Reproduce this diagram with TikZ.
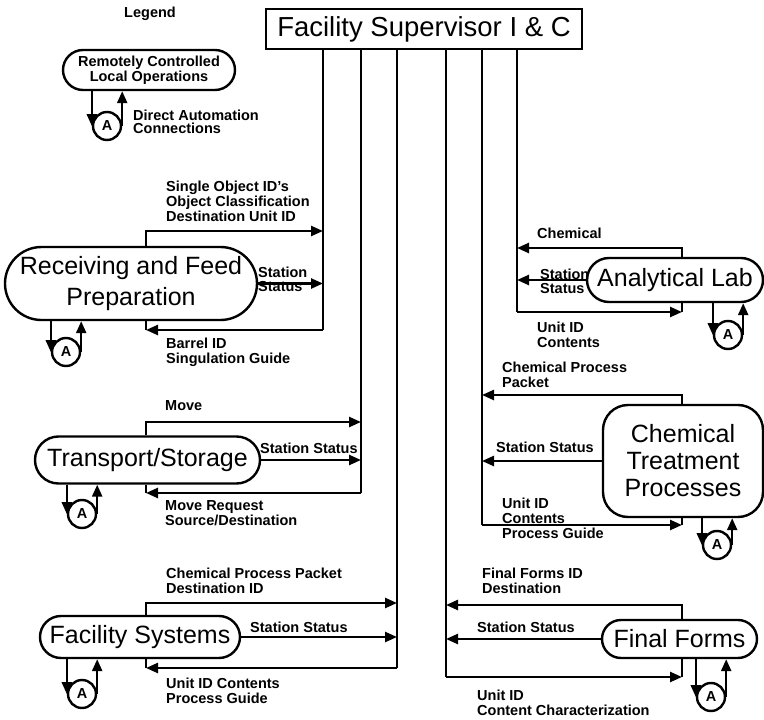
\documentclass[tikz,border=0pt]{standalone}
\usepackage{fontspec}
\setmainfont{Liberation Sans}
\usetikzlibrary{arrows.meta,shapes.misc}
\newcommand\labfont{\fontsize{14.5}{15}\selectfont\bfseries}
\newcommand\bigfont{\fontsize{25}{31}\selectfont}
\begin{document}
\begin{tikzpicture}[x=1pt,y=-1pt,
  box/.style={draw, line width=2.4pt, rounded rectangle, inner sep=0pt, font=\bigfont, align=center},
  lbl/.style={font=\labfont, align=left, inner sep=0pt, anchor=north west},
  ln/.style={line width=2.4pt},
  arr/.style={line width=2.4pt, -{Triangle[length=12pt,width=10pt]}},
  acirc/.style={circle, draw, line width=2.4pt, minimum size=28pt, inner sep=0pt, font=\labfont}]
\useasboundingbox (0,0) rectangle (764,720);

% supervisor
\node[draw, line width=2.4pt, minimum width=316pt, minimum height=40pt, inner sep=0pt,
      font=\fontsize{27.5}{30}\selectfont] (title) at (424,29) {Facility Supervisor I \& C};
\coordinate (b1) at (323,0);
\coordinate (b2) at (361,0);
\coordinate (b3) at (397,0);
\coordinate (b4) at (446,0);
\coordinate (b5) at (482,0);
\coordinate (b6) at (517,0);

% legend
\node[font=\labfont, inner sep=0pt] (legend) at (150,14) {Legend};
\node[box, font=\fontsize{14.5}{12.5}\selectfont\bfseries, minimum width=172pt, minimum height=40pt] (leg) at (149,70) {Remotely Controlled\\Local Operations};
\node[acirc] (legA) at (107,126) {A};
\draw[arr] (leg.south -| legA.west) -- (legA.west);
\draw[arr] (legA.east) -- (leg.south -| legA.east);
\node[lbl, font=\fontsize{14.5}{13}\selectfont\bfseries] (legL) at (133,110) {Direct Automation\\Connections};

% nodes
\node[box, minimum width=252pt, minimum height=73pt] (recv) at (131,283.5) {Receiving and Feed\\Preparation};
\node[box, minimum width=225pt, minimum height=47pt] (trans) at (147.5,460) {Transport/Storage};
\node[box, minimum width=200pt, minimum height=42pt] (fac) at (140,637) {Facility Systems};
\node[box, minimum width=176pt, minimum height=44pt] (anal) at (675,280) {Analytical Lab};
\node[draw, line width=2.4pt, rounded corners=25pt, inner sep=0pt, align=center,
      font=\fontsize{25}{27}\selectfont, minimum width=160pt, minimum height=112pt] (chem) at (683,461) {Chemical\\Treatment\\Processes};
\node[box, minimum width=155pt, minimum height=38pt] (final) at (679.5,639) {Final Forms};

% automation loops
\node[acirc] (recvA) at (66,352) {A};
\draw[arr] (recv.south -| recvA.west) -- (recvA.west);
\draw[arr] (recvA.east) -- (recv.south -| recvA.east);
\node[acirc] (transA) at (82,514) {A};
\draw[arr] (trans.south -| transA.west) -- (transA.west);
\draw[arr] (transA.east) -- (trans.south -| transA.east);
\node[acirc] (facA) at (82,694) {A};
\draw[arr] (fac.south -| facA.west) -- (facA.west);
\draw[arr] (facA.east) -- (fac.south -| facA.east);
\node[acirc] (analA) at (728,335) {A};
\draw[arr] (anal.south -| analA.west) -- (analA.west);
\draw[arr] (analA.east) -- (anal.south -| analA.east);
\node[acirc] (chemA) at (717,545) {A};
\draw[arr] (chem.south -| chemA.west) -- (chemA.west);
\draw[arr] (chemA.east) -- (chem.south -| chemA.east);
\node[acirc] (finalA) at (711,697) {A};
\draw[arr] (final.south -| finalA.west) -- (finalA.west);
\draw[arr] (finalA.east) -- (final.south -| finalA.east);

% receiving connections (bus 1)
\coordinate (rT) at (146,231);
\coordinate (rB) at (146,330);
\draw[ln] (title.south -| b1) -- (b1 |- rB);
\draw[arr] (recv.north -| rT) -- (rT) -- (rT -| b1);
\draw[arr] (recv.east) -- (recv.east -| b1);
\draw[ln] (recv.south -| rB) -- (rB);
\draw[arr] (rB -| b1) -- (rB);
\node[lbl] (rTl) at (166,181) {Single Object ID's\\Object Classification\\Destination Unit ID};
\node[lbl, font=\fontsize{14.5}{13.5}\selectfont\bfseries] (rSl) at (258,267) {Station\\Status};
\node[lbl] (rBl) at (166,338) {Barrel ID\\Singulation Guide};

% transport connections (bus 2)
\coordinate (tT) at (146,422);
\coordinate (tB) at (146,493);
\draw[ln] (title.south -| b2) -- (b2 |- tB);
\draw[arr] (trans.north -| tT) -- (tT) -- (tT -| b2);
\draw[arr] (trans.east) -- (trans.east -| b2);
\draw[ln] (trans.south -| tB) -- (tB);
\draw[arr] (tB -| b2) -- (tB);
\node[lbl] (tTl) at (165,400) {Move};
\node[lbl] (tSl) at (260,443) {Station Status};
\node[lbl] (tBl) at (165,500) {Move Request\\Source/Destination};

% facility systems connections (bus 3)
\coordinate (fT) at (146,603);
\coordinate (fB) at (146,668);
\draw[ln] (title.south -| b3) -- (b3 |- fB);
\draw[arr] (fac.north -| fT) -- (fT) -- (fT -| b3);
\draw[arr] (fac.east) -- (fac.east -| b3);
\draw[ln] (fac.south -| fB) -- (fB);
\draw[arr] (fB -| b3) -- (fB);
\node[lbl] (fTl) at (166,568) {Chemical Process Packet\\Destination ID};
\node[lbl] (fSl) at (250,622) {Station Status};
\node[lbl] (fBl) at (166,678) {Unit ID Contents\\Process Guide};

% final forms connections (bus 4)
\coordinate (ffT) at (682,605);
\coordinate (ffB) at (682,677);
\draw[ln] (title.south -| b4) -- (b4 |- ffB);
\draw[arr] (final.north -| ffT) -- (ffT) -- (ffT -| b4);
\draw[arr] (final.west) -- (final.west -| b4);
\draw[ln] (final.south -| ffB) -- (ffB);
\draw[arr] (ffB -| b4) -- (ffB);
\node[lbl] (ffTl) at (482,568) {Final Forms ID\\Destination};
\node[lbl] (ffSl) at (477,622) {Station Status};
\node[lbl] (ffBl) at (477,690) {Unit ID\\Content Characterization};

% chemical treatment connections (bus 5)
\coordinate (cT) at (682,395);
\coordinate (cB) at (682,525);
\draw[ln] (title.south -| b5) -- (b5 |- cB);
\draw[arr] (chem.north -| cT) -- (cT) -- (cT -| b5);
\draw[arr] (chem.west) -- (chem.west -| b5);
\draw[ln] (chem.south -| cB) -- (cB);
\draw[arr] (cB -| b5) -- (cB);
\node[lbl] (cTl) at (502,362) {Chemical Process\\Packet};
\node[lbl] (cSl) at (496,442) {Station Status};
\node[lbl] (cBl) at (502,498) {Unit ID\\Contents\\Process Guide};

% analytical lab connections (bus 6)
\coordinate (aT) at (682,248);
\coordinate (aB) at (682,312);
\draw[ln] (title.south -| b6) -- (b6 |- aB);
\draw[arr] (anal.north -| aT) -- (aT) -- (aT -| b6);
\draw[arr] (anal.west) -- (anal.west -| b6);
\draw[ln] (anal.south -| aB) -- (aB);
\draw[arr] (aB -| b6) -- (aB);
\node[lbl] (aTl) at (537,228) {Chemical};
\node[lbl, font=\fontsize{14.5}{13.5}\selectfont\bfseries] (aSl) at (540,269) {Station\\Status};
\node[lbl] (aBl) at (537,322) {Unit ID\\Contents};
\end{tikzpicture}
\end{document}
